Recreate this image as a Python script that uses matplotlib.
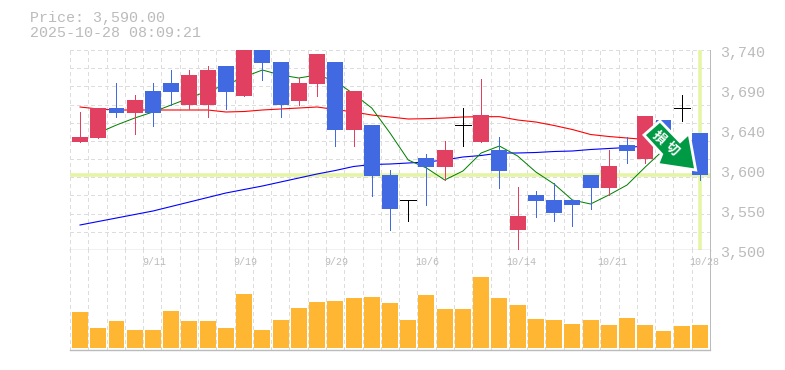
import matplotlib
matplotlib.use('Agg')
import matplotlib.pyplot as plt
from matplotlib.patches import Polygon
import numpy as np

# prices
opens = [3629.6, 3634.4, 3670.4, 3664.4, 3690.8, 3700.4, 3674.0, 3674.0, 3720.8, 3684.8, 3740.0, 3725.6,
         3678.8, 3699.2, 3725.6, 3644.0, 3650.0, 3590.0, 3560.0, 3610.4, 3599.6, 3650.0, 3629.6, 3620.0,
         3524.0, 3566.0, 3560.0, 3560.0, 3590.0, 3574.4, 3626.0, 3609.2, 3656.0, 3670.4, 3640.0]
closes = [3635.6, 3670.4, 3664.4, 3680.0, 3664.4, 3689.6, 3710.0, 3716.0, 3689.6, 3740.0, 3724.4, 3674.0,
          3700.4, 3735.2, 3644.0, 3690.8, 3588.8, 3549.2, 3560.0, 3599.6, 3620.0, 3650.0, 3662.0, 3594.8,
          3540.8, 3558.8, 3544.4, 3554.0, 3574.4, 3600.8, 3618.8, 3660.8, 3620.0, 3670.4, 3590.0]
highs = [3665.6, 3670.4, 3700.4, 3686.0, 3700.4, 3716.0, 3716.0, 3720.8, 3720.8, 3740.0, 3740.0, 3725.6,
         3706.4, 3735.2, 3725.6, 3690.8, 3650.0, 3596.0, 3560.0, 3615.2, 3630.8, 3670.4, 3705.2, 3635.6,
         3575.6, 3570.8, 3580.4, 3560.0, 3590.0, 3620.0, 3635.6, 3660.8, 3656.0, 3686.0, 3640.0]
lows = [3629.6, 3634.4, 3659.6, 3639.2, 3648.8, 3674.0, 3669.2, 3659.6, 3669.2, 3684.8, 3704.0, 3659.6,
        3674.0, 3684.8, 3624.8, 3624.8, 3564.8, 3524.0, 3534.8, 3554.0, 3584.0, 3624.8, 3629.6, 3574.4,
        3500.0, 3539.6, 3534.8, 3528.8, 3549.2, 3566.0, 3604.4, 3604.4, 3620.0, 3654.8, 3584.0]

# green line starts one candle in
ma_green = [3640.4, 3650.0, 3658.4, 3665.6, 3674.0, 3682.4, 3690.8, 3698.0, 3707.6, 3716.0, 3710.0, 3706.4,
            3710.0, 3702.8, 3687.2, 3670.4, 3640.4, 3608.0, 3598.4, 3584.0, 3594.8, 3616.4, 3624.8, 3612.8,
            3593.6, 3579.2, 3560.0, 3555.2, 3566.0, 3578.0, 3599.6, 3620.0, 3622.4, 3620.0]
ma_red = [3671.6, 3669.2, 3668.0, 3668.0, 3668.0, 3668.0, 3668.0, 3668.0, 3665.6, 3666.2, 3668.0, 3669.2,
          3670.4, 3671.6, 3668.6, 3665.6, 3662.0, 3659.6, 3657.2, 3657.6, 3658.4, 3659.6, 3660.0, 3660.0,
          3656.0, 3653.6, 3649.4, 3644.6, 3638.6, 3636.2, 3634.4, 3632.6, 3632.0, 3631.4, 3630.8]
ma_blue = [3530.0, 3534.2, 3538.4, 3542.6, 3546.8, 3552.2, 3557.6, 3563.0, 3568.4, 3572.6, 3576.8, 3581.6,
           3586.4, 3591.2, 3595.4, 3600.2, 3602.6, 3603.2, 3604.4, 3605.6, 3608.0, 3611.6, 3613.4, 3616.4,
           3616.4, 3617.0, 3618.2, 3618.8, 3620.6, 3621.8, 3623.0, 3624.8, 3626.0, 3627.2, 3628.4]

volumes = [36, 20, 27, 18, 18, 37, 27, 27, 20, 54, 18, 28, 40, 46, 47, 50, 51, 45,
           28, 53, 39, 39, 71, 50, 43, 29, 28, 24, 28, 23, 30, 23, 17, 22, 23]

date_pos = [4, 9, 14, 19, 24, 29, 34]
date_labels = ['9/11', '9/19', '9/29', '10/6', '10/14', '10/21', '10/28']
price_pos = [3740, 3692, 3644, 3596, 3548, 3500]
price_labels = ['3,740', '3,690', '3,640', '3,600', '3,550', '3,500']

plt.rcParams['font.family'] = ['Liberation Mono', 'DejaVu Sans Mono']
GRAY = '#bbbbbb'
GRID = '#dddddd'
PALE = '#e4f5a5'
UP = '#e24060'
DOWN = '#4169e1'
PX = 0.72

fig = plt.figure(figsize=(7.85, 3.7), dpi=100)
ax = fig.add_axes([70 / 785, 120 / 370, 640 / 785, 200 / 370])
vol = fig.add_axes([70 / 785, 20 / 370, 640 / 785, 100 / 370])

x = np.arange(35)
grid_x = np.linspace(-0.55, 34.55, 36)
width = 0.877

for a in (ax, vol):
    a.set_xlim(-0.55, 34.55)
    a.set_xticks(grid_x)
    a.tick_params(length=0, labelbottom=False, labelleft=False)
    a.set_axisbelow(True)
    a.grid(True, axis='x', color=GRID, lw=PX, ls=(0, (3, 3)), antialiased=False)
    for gl in a.get_xgridlines():
        gl.set_clip_on(False)
    for side in a.spines:
        a.spines[side].set_visible(False)
    a.spines['right'].set_visible(True)
    a.spines['right'].set_color(GRAY)
    a.spines['right'].set_linewidth(PX)

ax.set_ylim(3500, 3740)
ax.set_yticks(np.linspace(3500, 3740, 12)[1:])
ax.grid(True, axis='y', color=GRID, lw=PX, ls=(0, (3, 3)), antialiased=False)
for gl in ax.get_ygridlines():
    gl.set_clip_on(False)
ax.spines['bottom'].set_visible(True)
ax.spines['bottom'].set_color(GRAY)
ax.spines['bottom'].set_linewidth(PX * 1.4)

# current price cross
ax.axhline(closes[-1], color=PALE, lw=2.6, zorder=2)
ax.axvline(x[-1], color=PALE, lw=2.6, zorder=2)

# moving averages go under the candles
ax.plot(x, ma_red, color='#ff0000', lw=PX * 1.1, zorder=3)
ax.plot(x, ma_blue, color='#0000ff', lw=PX * 1.1, zorder=3)
ax.plot(x[1:], ma_green, color='#008000', lw=PX, zorder=3)

for i in x:
    o, c = opens[i], closes[i]
    if o == c:
        col = 'black'
        ax.hlines(o, i - width / 2, i + width / 2, color=col, lw=PX, zorder=4, antialiased=False)
    else:
        col = UP if c > o else DOWN
        ax.bar(i, abs(c - o), bottom=min(o, c), width=width, color=col, zorder=4, linewidth=0, antialiased=False)
    ax.vlines(i, lows[i], highs[i], color=col, lw=PX, zorder=4, antialiased=False)

for pos, lab in zip(price_pos, price_labels):
    ax.annotate(lab, (1, pos), xycoords=ax.get_yaxis_transform(), xytext=(10, -3),
                textcoords='offset pixels', ha='left', va='center', fontsize=10.8,
                color=GRAY, annotation_clip=False)

vol.set_ylim(-2, 98)
vol.bar(x, volumes, width=width, color='#ffb733', linewidth=0, zorder=3, antialiased=False)
vol.spines['bottom'].set_visible(True)
vol.spines['bottom'].set_color(GRAY)
vol.spines['bottom'].set_linewidth(PX * 1.4)

for pos, lab in zip(date_pos, date_labels):
    vol.annotate(lab, (pos, 0.88), xycoords=vol.get_xaxis_transform(), xytext=(-11, 0),
                 textcoords='offset pixels', ha='left', va='center', fontsize=7.2,
                 color=GRAY, annotation_clip=False, zorder=5)

# overlay in pixel coordinates for the header and the arrow badge
top = fig.add_axes([0, 0, 1, 1], zorder=10)
top.set_xlim(0, 785)
top.set_ylim(370, 0)
top.axis('off')
top.patch.set_visible(False)

top.text(30, 18, 'Price: 3,590.00', fontsize=10.8, color=GRAY, ha='left', va='center')
top.text(30, 33, '2025-10-28 08:09:21', fontsize=10.8, color=GRAY, ha='left', va='center')

arrow_pts = [(660, 121), (644, 135), (661.7, 154.3), (657.7, 164.3), (695.7, 170), (689, 133.3), (680, 141.7)]
top.add_patch(Polygon(arrow_pts, closed=True, facecolor='#009944', edgecolor='white', lw=2, joinstyle='miter'))
badge_font = ['Noto Sans CJK JP', 'DejaVu Sans']
top.text(659.5, 138, '損', fontsize=9.5, color='white', family=badge_font, weight='bold',
         rotation=-42, ha='center', va='center', rotation_mode='anchor')
top.text(672, 148.5, '切', fontsize=9.5, color='white', family=badge_font, weight='bold',
         rotation=-42, ha='center', va='center', rotation_mode='anchor')

fig.savefig('out.png', dpi=100)
